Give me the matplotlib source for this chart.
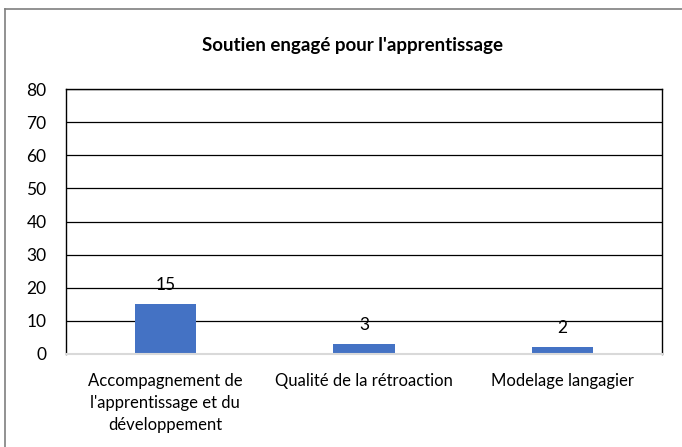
import numpy as np
import matplotlib.pyplot as plt
from matplotlib.lines import Line2D

plt.rcParams["font.family"] = ["Lato", "DejaVu Sans"]

title = "Soutien engagé pour l'apprentissage"
categories = ["Accompagnement de\nl'apprentissage et du\ndéveloppement",
              "Qualité de la rétroaction",
              "Modelage langagier"]
values = [15, 3, 2]
yticks = [0, 10, 20, 30, 40, 50, 60, 70, 80]

fig = plt.figure(figsize=(6.82, 4.47), dpi=100)
ax = fig.add_axes([66 / 682, 93 / 447, 596 / 682, 265 / 447])

x = np.arange(len(categories))
bars = ax.bar(x, values, width=0.31, color="#4472C4", zorder=3)
for xi, v in zip(x, values):
    ax.annotate(str(v), (xi, v), xytext=(0, 8), textcoords="offset points",
                ha="center", va="bottom", fontsize=12.5, color="#000000", zorder=4)

ax.set_xlim(-0.5, len(categories) - 0.5)
ax.set_ylim(0, 80)
ax.set_yticks(yticks)
ax.set_yticklabels([str(t) for t in yticks], fontsize=12.5)
ax.set_xticks(x)
ax.set_xticklabels(categories, fontsize=12, linespacing=1.45, va="top")
ax.tick_params(axis="both", length=0)
ax.tick_params(axis="y", pad=14)
ax.tick_params(axis="x", pad=14)
ax.yaxis.grid(True, color="black", linewidth=0.9, zorder=0)
ax.set_axisbelow(True)
for side in ["top", "left", "right"]:
    ax.spines[side].set_color("black")
    ax.spines[side].set_linewidth(1.0)
ax.spines["bottom"].set_color("#D9D9D9")
ax.spines["bottom"].set_linewidth(1.5)
ax.spines["bottom"].set_zorder(5)

fig.text(352 / 682, 1 - 46 / 447, title, ha="center", va="center",
         fontsize=13.5, fontweight="bold")

# chart frame (partially visible)
fig.add_artist(Line2D([5 / 682, 5 / 682], [0, 1 - 9 / 447], transform=fig.transFigure,
                      color="#7F7F7F", linewidth=1.2))
fig.add_artist(Line2D([5 / 682, 1], [1 - 9 / 447, 1 - 9 / 447], transform=fig.transFigure,
                      color="#7F7F7F", linewidth=1.2))

fig.savefig("out.png", dpi=100)
